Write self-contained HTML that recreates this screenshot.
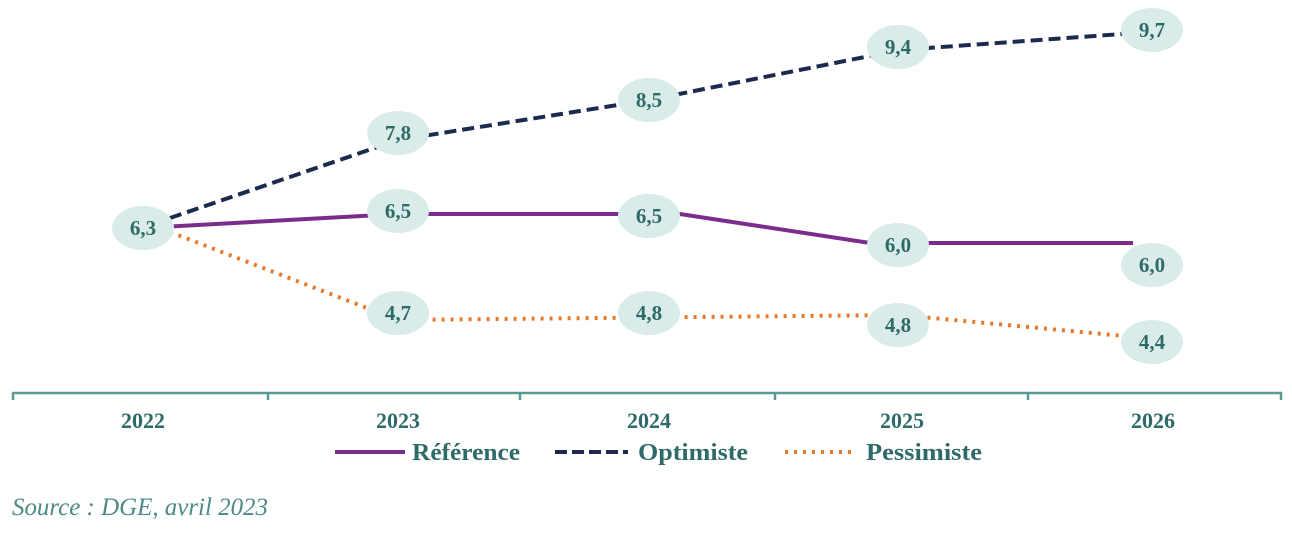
<!DOCTYPE html>
<html><head><style>body{margin:0;background:#fff}svg{display:block}</style></head><body>
<svg width="1292" height="533" viewBox="0 0 1292 533" font-family="Liberation Serif, serif">
<g fill="none" stroke-width="4">
<polyline points="170,218 398,140 649,100 900,50 1150,32" stroke="#1b2a4e" stroke-dasharray="12,6"/>
<polyline points="143,228 398,214 680,214 870,243 1133,243" stroke="#7b2d8b"/>
<polyline points="170,232 398,320 900,315 1135,337" stroke="#e8782a" stroke-dasharray="3,6" stroke-width="4"/>
</g>
<g fill="#d9ecea">
<ellipse cx="143" cy="228" rx="31" ry="22"/>
<ellipse cx="398" cy="133" rx="31" ry="22"/>
<ellipse cx="649" cy="100" rx="31" ry="22"/>
<ellipse cx="898" cy="47" rx="31" ry="22"/>
<ellipse cx="1152" cy="30" rx="31" ry="22"/>
<ellipse cx="398" cy="211" rx="31" ry="22"/>
<ellipse cx="649" cy="216" rx="31" ry="22"/>
<ellipse cx="898" cy="245" rx="31" ry="22"/>
<ellipse cx="1152" cy="265" rx="31" ry="22"/>
<ellipse cx="398" cy="313" rx="31" ry="22"/>
<ellipse cx="649" cy="313" rx="31" ry="22"/>
<ellipse cx="898" cy="325" rx="31" ry="22"/>
<ellipse cx="1152" cy="342" rx="31" ry="22"/>
</g>
<g fill="#2e6b68" font-weight="bold" font-size="21" text-anchor="middle">
<text x="143" y="235">6,3</text>
<text x="398" y="140">7,8</text>
<text x="649" y="107">8,5</text>
<text x="898" y="54">9,4</text>
<text x="1152" y="37">9,7</text>
<text x="398" y="218">6,5</text>
<text x="649" y="223">6,5</text>
<text x="898" y="252">6,0</text>
<text x="1152" y="272">6,0</text>
<text x="398" y="320">4,7</text>
<text x="649" y="320">4,8</text>
<text x="898" y="332">4,8</text>
<text x="1152" y="349">4,4</text>
</g>
<g fill="#2e6b68" font-weight="bold" font-size="22" text-anchor="middle">
<text x="143" y="428">2022</text>
<text x="398" y="428">2023</text>
<text x="649" y="428">2024</text>
<text x="902" y="428">2025</text>
<text x="1153" y="428">2026</text>
</g>
<g stroke="#5a9a94" stroke-width="2.5">
<line x1="12" y1="393" x2="1282" y2="393"/>
<line x1="13" y1="393" x2="13" y2="400"/><line x1="268" y1="393" x2="268" y2="400"/>
<line x1="520" y1="393" x2="520" y2="400"/><line x1="775" y1="393" x2="775" y2="400"/>
<line x1="1028" y1="393" x2="1028" y2="400"/><line x1="1281" y1="393" x2="1281" y2="400"/>
</g>
<line x1="335" y1="452" x2="405" y2="452" stroke="#7b2d8b" stroke-width="4"/>
<line x1="555" y1="452" x2="628" y2="452" stroke="#1b2a4e" stroke-width="4" stroke-dasharray="12,5"/>
<line x1="785" y1="452" x2="855" y2="452" stroke="#e8782a" stroke-width="4" stroke-dasharray="3,6"/>
<g fill="#2e6b68" font-weight="bold" font-size="24">
<text x="412" y="460" textLength="108" lengthAdjust="spacingAndGlyphs">Référence</text>
<text x="638" y="460" textLength="110" lengthAdjust="spacingAndGlyphs">Optimiste</text>
<text x="866" y="460" textLength="116" lengthAdjust="spacingAndGlyphs">Pessimiste</text>
</g>
<text x="12" y="515" fill="#4d8a85" font-style="italic" font-size="25" textLength="256" lengthAdjust="spacingAndGlyphs">Source : DGE, avril 2023</text>
</svg>
</body></html>
